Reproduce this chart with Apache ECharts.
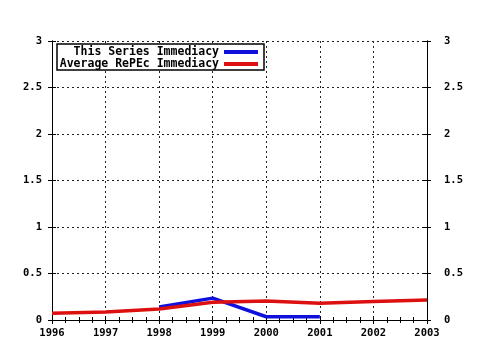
<!DOCTYPE html>
<html><head><meta charset="utf-8">
<script src="https://cdn.jsdelivr.net/npm/echarts@6/dist/echarts.min.js"></script>
<style>html,body{margin:0;padding:0;background:#fff}#c{width:480px;height:350px}</style>
</head><body><div id="c"></div>
<script>
var years = [1996, 1997, 1998, 1999, 2000, 2001, 2002, 2003];
var seriesNames = ['This Series Immediacy', 'Average RePEc Immediacy'];
var seriesYears = [1998, 1999, 2000, 2001];
var seriesValues = [0.14, 0.235, 0.035, 0.035];
var averageValues = [0.072, 0.086, 0.118, 0.19, 0.204, 0.18, 0.2, 0.215];
var yTicks = [0, 0.5, 1, 1.5, 2, 2.5, 3];

var FONT = '"DejaVu Sans Mono", monospace';
var chart = echarts.init(document.getElementById('c'), null, {renderer: 'canvas'});
var lbl = {fontFamily: FONT, fontWeight: 'bold', fontSize: 10.5, color: '#000'};
function xAxisDef(pos, showLabel, inside, split) {
  return {
    type: 'value', position: pos, min: years[0], max: years[years.length - 1], interval: 1,
    axisLine: {show: showLabel || pos === 'top', lineStyle: {color: '#000', width: 1}},
    axisTick: {show: true, inside: inside, length: 4, lineStyle: {color: '#000'}},
    minorTick: {show: inside, splitNumber: 4, length: 3, lineStyle: {color: '#000'}},
    splitLine: {show: split, lineStyle: {color: '#222', type: [2, 3], width: 1}},
    axisLabel: Object.assign({show: showLabel, margin: 8, formatter: function (v) { return String(v); }}, lbl)
  };
}
function yAxisDef(pos, showLabel, inside, split, margin) {
  return {
    type: 'value', position: pos, min: yTicks[0], max: yTicks[yTicks.length - 1], interval: 0.5,
    axisLine: {show: true, lineStyle: {color: '#000', width: 1}},
    axisTick: {show: true, inside: inside, length: 4, lineStyle: {color: '#000'}},
    splitLine: {show: split, lineStyle: {color: '#222', type: [2, 3], width: 1}},
    axisLabel: Object.assign({show: showLabel, margin: margin}, lbl)
  };
}
var option = {
  backgroundColor: '#fff',
  animation: false,
  grid: {left: 52, right: 53, top: 41, bottom: 30, containLabel: false},
  legend: {
    orient: 'vertical', left: 57, top: 44, align: 'right',
    icon: 'rect', itemWidth: 34, itemHeight: 4, itemGap: 0,
    padding: [2, 6, 0, 0],
    borderColor: '#000', borderWidth: 1.5, backgroundColor: '#fff',
    textStyle: {fontFamily: FONT, fontWeight: 'bold', fontSize: 11.5, color: '#000', lineHeight: 12,
      rich: {n: {fontFamily: FONT, fontWeight: 'bold', fontSize: 11.5, lineHeight: 12, height: 12, width: 162, align: 'right'}}},
    formatter: function (n) { return '{n|' + n + '}'; },
    data: seriesNames
  },
  xAxis: [
    xAxisDef('bottom', true, false, true),
    xAxisDef('top', false, true, false),
    xAxisDef('bottom', false, true, false)
  ],
  yAxis: [
    yAxisDef('left', true, false, true, 10),
    yAxisDef('right', true, false, false, 17),
    yAxisDef('left', false, true, false, 10),
    yAxisDef('right', false, true, false, 10)
  ],
  series: [
    {name: seriesNames[0], type: 'line', xAxisIndex: 0, yAxisIndex: 0,
     data: seriesYears.map(function (y, i) { return [y, seriesValues[i]]; }),
     showSymbol: false, lineStyle: {color: '#1010dd', width: 3.5}, itemStyle: {color: '#1010dd'}},
    {name: seriesNames[1], type: 'line', xAxisIndex: 0, yAxisIndex: 0,
     data: years.map(function (y, i) { return [y, averageValues[i]]; }),
     showSymbol: false, lineStyle: {color: '#dd1010', width: 3.5}, itemStyle: {color: '#dd1010'}}
  ]
};
chart.setOption(option);
</script></body></html>
